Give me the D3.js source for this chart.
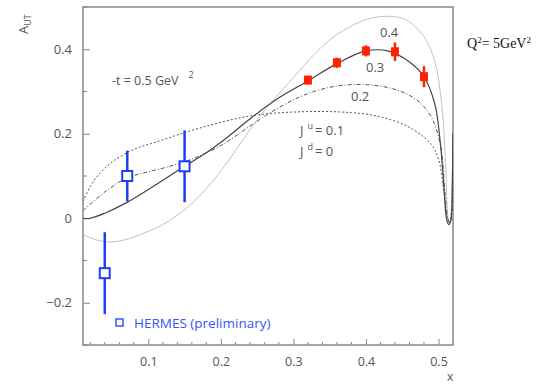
<!DOCTYPE html>
<html>
<head>
<meta charset="utf-8">
<script src="https://cdn.jsdelivr.net/npm/d3@7"></script>
<style>
  body { margin: 0; background: #fff; }
  svg text { font-family: "Open Sans", sans-serif; }
</style>
</head>
<body>
<div id="chart"></div>
<script>
// model curves, one per J^u value
const curveJu01 = [[0.01,0.04],[0.02,0.075],[0.03,0.10],[0.05,0.133],[0.08,0.163],[0.11,0.18],[0.17,0.213],[0.24,0.242],[0.31,0.252],[0.38,0.25],[0.42,0.24],[0.46,0.215],[0.49,0.175],[0.5,0.14],[0.507,0.07],[0.512,0.0],[0.515,-0.012],[0.518,0.02],[0.52,0.2]];
const curveJu02 = [[0.01,0.018],[0.04,0.062],[0.07,0.095],[0.1,0.11],[0.13,0.123],[0.16,0.14],[0.2,0.172],[0.24,0.218],[0.28,0.262],[0.32,0.295],[0.36,0.313],[0.40,0.316],[0.44,0.305],[0.47,0.28],[0.49,0.24],[0.503,0.17],[0.509,0.06],[0.513,0.0],[0.516,-0.012],[0.519,0.03],[0.52,0.2]];
const curveJu03 = [[0.01,0.0],[0.02,0.0],[0.04,0.012],[0.07,0.037],[0.1,0.068],[0.15,0.123],[0.18,0.155],[0.21,0.193],[0.24,0.235],[0.28,0.285],[0.32,0.325],[0.36,0.366],[0.40,0.396],[0.43,0.396],[0.46,0.37],[0.48,0.335],[0.495,0.27],[0.503,0.17],[0.508,0.06],[0.511,0.0],[0.514,-0.015],[0.517,-0.005],[0.519,0.08],[0.52,0.2]];
const curveJu04 = [[0.01,-0.038],[0.03,-0.052],[0.05,-0.056],[0.07,-0.05],[0.09,-0.038],[0.12,-0.015],[0.15,0.02],[0.17,0.052],[0.19,0.09],[0.21,0.135],[0.23,0.185],[0.25,0.232],[0.27,0.275],[0.3,0.333],[0.33,0.39],[0.36,0.435],[0.4,0.47],[0.43,0.478],[0.455,0.47],[0.48,0.43],[0.495,0.37],[0.505,0.26],[0.51,0.12],[0.513,0.0],[0.515,-0.012],[0.518,0.0],[0.52,0.15]];

// projected points (red)
const projX = [0.32, 0.36, 0.40, 0.44, 0.48];
const projY = [0.327, 0.368, 0.396, 0.394, 0.335];
const projErr = [0.01, 0.012, 0.013, 0.022, 0.025];

// HERMES preliminary (blue)
const hermesX = [0.04, 0.071, 0.15];
const hermesY = [-0.13, 0.10, 0.123];
const hermesErr = [0.097, 0.06, 0.085];

const xMajor = [0.1, 0.2, 0.3, 0.4, 0.5];
const yMajor = [-0.2, 0, 0.2, 0.4];

const width = 545, height = 386;
const mLeft = 83, mRight = 453, mTop = 7, mBottom = 345;

const svg = d3.select("#chart").append("svg")
    .attr("width", width)
    .attr("height", height);

const x = d3.scaleLinear().domain([0.01, 0.52]).range([mLeft, mRight]);
const y = d3.scaleLinear().domain([-0.3, 0.5]).range([mBottom, mTop]);

const axisColor = "#888";
const textColor = "#555";

// minor ticks
const xMinor = d3.range(0.02, 0.521, 0.02).filter(v => !xMajor.some(m => Math.abs(m - v) < 1e-6));
const yMinor = [-0.3, -0.1, 0.1, 0.3, 0.5];

const xAxis = svg.append("g")
    .attr("transform", `translate(0,${mBottom})`)
    .call(d3.axisBottom(x).tickValues(xMajor).tickSizeInner(-6).tickSizeOuter(0).tickPadding(12)
        .tickFormat(d3.format(".1f")));
xAxis.select(".domain").remove();
xAxis.selectAll("line").attr("stroke", axisColor);
xAxis.selectAll("text").attr("fill", textColor).style("font-size", "12.5px");

svg.append("g").selectAll("line").data(xMinor).join("line")
    .attr("x1", d => x(d)).attr("x2", d => x(d))
    .attr("y1", mBottom).attr("y2", mBottom - 3)
    .attr("stroke", axisColor);

const yAxis = svg.append("g")
    .attr("transform", `translate(${mLeft},0)`)
    .call(d3.axisLeft(y).tickValues(yMajor).tickSizeInner(-7).tickSizeOuter(0).tickPadding(11)
        .tickFormat(d => d === 0 ? "0" : d3.format(".1f")(d)));
yAxis.select(".domain").remove();
yAxis.selectAll("line").attr("stroke", axisColor);
yAxis.selectAll("text").attr("fill", textColor).style("font-size", "13px");

svg.append("g").selectAll("line").data(yMinor).join("line")
    .attr("x1", mLeft).attr("x2", mLeft + 4)
    .attr("y1", d => y(d)).attr("y2", d => y(d))
    .attr("stroke", axisColor);

// frame
svg.append("rect")
    .attr("x", mLeft).attr("y", mTop)
    .attr("width", mRight - mLeft).attr("height", mBottom - mTop)
    .attr("fill", "none").attr("stroke", axisColor).attr("stroke-width", 1.5);

svg.append("clipPath").attr("id", "clip")
  .append("rect").attr("x", mLeft).attr("y", mTop)
    .attr("width", mRight - mLeft).attr("height", mBottom - mTop);

// curves
const line = d3.line()
    .x(d => x(d[0]))
    .y(d => y(d[1]))
    .curve(d3.curveCatmullRom.alpha(0.5));

const curves = [
    { data: curveJu04, color: "#bbb", dash: null, w: 0.9 },
    { data: curveJu01, color: "#555", dash: "2,2", w: 1 },
    { data: curveJu02, color: "#555", dash: "4,2,1,2", w: 1 },
    { data: curveJu03, color: "#444", dash: null, w: 1.2 }
];

svg.append("g").attr("clip-path", "url(#clip)")
  .selectAll("path").data(curves).join("path")
    .attr("d", d => line(d.data))
    .attr("fill", "none")
    .attr("stroke", d => d.color)
    .attr("stroke-width", d => d.w)
    .attr("stroke-dasharray", d => d.dash);

// red projected points
const proj = projX.map((v, i) => ({ x: v, y: projY[i], e: projErr[i] }));
const pg = svg.append("g");
pg.selectAll("line").data(proj).join("line")
    .attr("x1", d => x(d.x)).attr("x2", d => x(d.x))
    .attr("y1", d => y(d.y + d.e)).attr("y2", d => y(d.y - d.e))
    .attr("stroke", "#ff2200").attr("stroke-width", 2.5);
pg.selectAll("rect").data(proj).join("rect")
    .attr("x", d => x(d.x) - 4).attr("y", d => y(d.y) - 4.5)
    .attr("width", 8).attr("height", 9)
    .attr("fill", "#ff2200");

// HERMES points
const blue = "#1f3df5";
const hermes = hermesX.map((v, i) => ({ x: v, y: hermesY[i], e: hermesErr[i] }));
const hg = svg.append("g");
hg.selectAll("line").data(hermes).join("line")
    .attr("x1", d => x(d.x)).attr("x2", d => x(d.x))
    .attr("y1", d => y(d.y + d.e)).attr("y2", d => y(d.y - d.e))
    .attr("stroke", blue).attr("stroke-width", 2.5);
hg.selectAll("rect").data(hermes).join("rect")
    .attr("x", d => x(d.x) - 5).attr("y", d => y(d.y) - 5)
    .attr("width", 10).attr("height", 10)
    .attr("fill", "#fff").attr("stroke", blue).attr("stroke-width", 2);

// legend
svg.append("rect")
    .attr("x", 116).attr("y", 319).attr("width", 7).attr("height", 7)
    .attr("fill", "#fff").attr("stroke", "#3355ff").attr("stroke-width", 1.5);
svg.append("text")
    .attr("x", 134).attr("y", 328)
    .attr("fill", "#3355ff").style("font-size", "13.5px")
    .text("HERMES (preliminary)");

// labels
svg.append("text")
    .attr("transform", "translate(28,34) rotate(-90)")
    .attr("fill", textColor).style("font-size", "13px")
    .text("A")
  .append("tspan").attr("dy", 3).style("font-size", "9px").text("UT");

svg.append("text")
    .attr("x", 447).attr("y", 381)
    .attr("fill", textColor).style("font-size", "12px")
    .text("x");

const tLabel = svg.append("text")
    .attr("x", 112).attr("y", 85)
    .attr("fill", textColor).style("font-size", "12.5px")
    .text("-t = 0.5 GeV");
tLabel.append("tspan").attr("dx", 10).attr("dy", -7).style("font-size", "9px").text("2");

svg.append("text")
    .attr("x", 467).attr("y", 48)
    .attr("fill", "#111")
    .style("font-family", "'Liberation Serif', serif").style("font-size", "14px")
    .html('Q<tspan dy="-5" font-size="9">2</tspan><tspan dy="5">= 5GeV</tspan><tspan dy="-5" font-size="9">2</tspan>');

const curveLabels = [
    { t: "0.4", x: 380, y: 37 },
    { t: "0.3", x: 366, y: 72 },
    { t: "0.2", x: 351, y: 101 }
];
svg.selectAll(".clab").data(curveLabels).join("text")
    .attr("x", d => d.x).attr("y", d => d.y)
    .attr("fill", textColor).style("font-size", "13px")
    .text(d => d.t);

const ju = svg.append("text").attr("x", 300).attr("y", 135)
    .attr("fill", textColor).style("font-size", "13px").text("J");
ju.append("tspan").attr("dx", 4).attr("dy", -6).style("font-size", "9px").text("u");
ju.append("tspan").attr("dx", 2).attr("dy", 6).text("= 0.1");

const jd = svg.append("text").attr("x", 300).attr("y", 156)
    .attr("fill", textColor).style("font-size", "13px").text("J");
jd.append("tspan").attr("dx", 4).attr("dy", -6).style("font-size", "9px").text("d");
jd.append("tspan").attr("dx", 2).attr("dy", 6).text("= 0");
</script>
</body>
</html>
